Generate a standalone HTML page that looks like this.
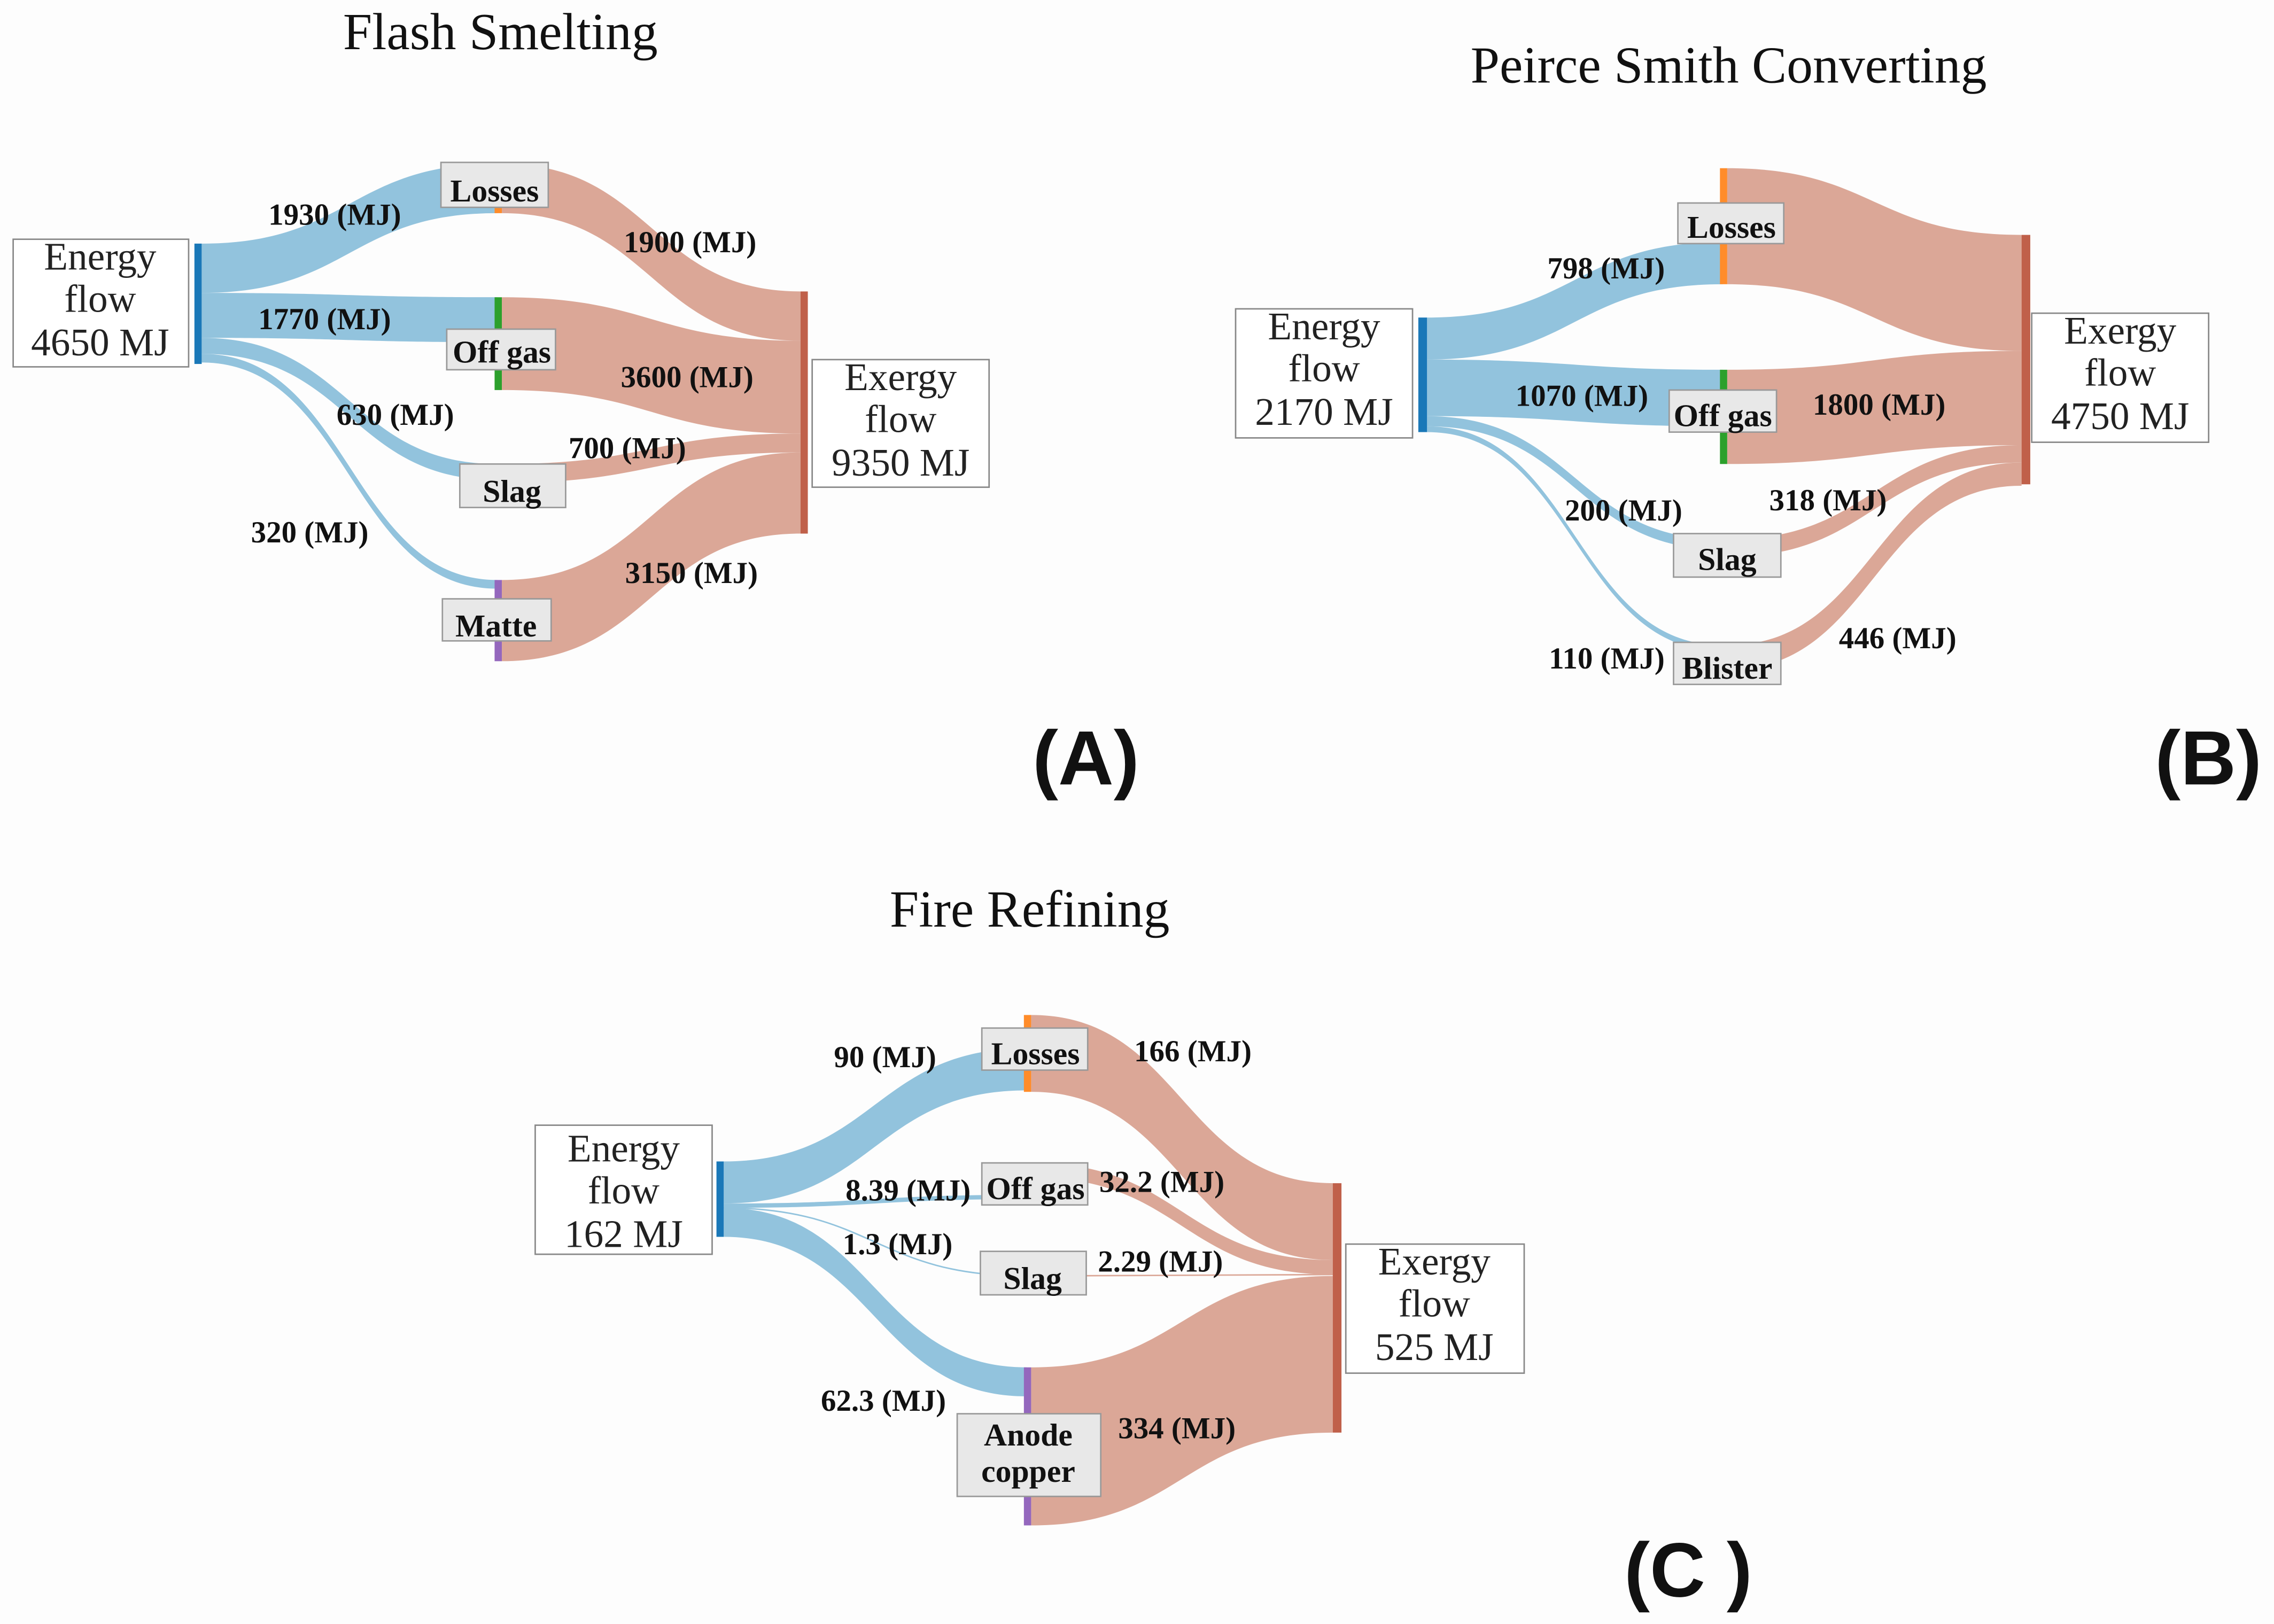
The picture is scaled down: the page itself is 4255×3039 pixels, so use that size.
<!DOCTYPE html>
<html><head><meta charset="utf-8"><style>
html,body{margin:0;padding:0;background:#fdfdfd}
svg{display:block}
.t{font-family:"Liberation Serif",serif;font-size:36px;fill:#111;text-anchor:middle}
.bx{font-family:"Liberation Serif",serif;font-size:27px;fill:#222;text-anchor:middle}
.fl{font-family:"Liberation Serif",serif;font-size:21px;font-weight:bold;fill:#111}
.nl{font-family:"Liberation Serif",serif;font-size:22px;font-weight:bold;fill:#111;text-anchor:middle}
.pl{font-family:"Liberation Sans",sans-serif;font-size:53px;font-weight:bold;fill:#111}
.b{fill:#92c3dd}.p{fill:#dba797}
.wb{fill:#fff;stroke:#888;stroke-width:1}
.gb{fill:#e8e8e8;stroke:#999;stroke-width:1}
</style></head><body>
<svg width="4255" height="3039" viewBox="0 0 1568 1120" xmlns="http://www.w3.org/2000/svg">
<rect width="1568" height="1120" fill="#fdfdfd"/>
<!-- Panel A -->
<text class="t" x="345" y="34">Flash Smelting</text>
<path class="b" d="M139 168 C241 168 241 113 343 113 L343 147 C241 147 241 202 139 202Z"/>
<path class="b" d="M139 202 C241 202 241 205 343 205 L343 236 C241 236 241 233 139 233Z"/>
<path class="b" d="M139 233 C241 233 241 320 343 320 L343 331 C241 331 241 244 139 244Z"/>
<path class="b" d="M139 244 C241 244 241 400 343 400 L343 406 C241 406 241 250 139 250Z"/>
<path class="p" d="M346 113 C449 113 449 201 552 201 L552 235 C449 235 449 147 346 147Z"/>
<path class="p" d="M346 205 C449 205 449 235 552 235 L552 299 C449 299 449 269 346 269Z"/>
<path class="p" d="M346 320 C449 320 449 299 552 299 L552 312 C449 312 449 333 346 333Z"/>
<path class="p" d="M346 400 C449 400 449 312 552 312 L552 368 C449 368 449 456 346 456Z"/>
<rect x="134" y="168" width="5" height="83" fill="#1a78b8"/>
<rect x="552" y="201" width="5" height="167" fill="#c0604a"/>
<rect x="341" y="113" width="5" height="34" fill="#ff8c2a"/>
<rect x="341" y="205" width="5" height="64" fill="#2ca02c"/>
<rect x="341" y="320" width="5" height="13" fill="#d62728"/>
<rect x="341" y="400" width="5" height="56" fill="#9467bd"/>
<rect class="wb" x="9" y="165" width="121" height="88"/>
<text class="bx" x="69" y="186">Energy</text><text class="bx" x="69" y="215">flow</text><text class="bx" x="69" y="245">4650 MJ</text>
<rect class="wb" x="560" y="248" width="122" height="88"/>
<text class="bx" x="621" y="269">Exergy</text><text class="bx" x="621" y="298">flow</text><text class="bx" x="621" y="328">9350 MJ</text>
<rect class="gb" x="304" y="112" width="74" height="31"/><text class="nl" x="341" y="139">Losses</text>
<rect class="gb" x="308" y="227" width="75" height="28"/><text class="nl" x="346" y="250">Off gas</text>
<rect class="gb" x="317" y="320" width="73" height="30"/><text class="nl" x="353" y="346">Slag</text>
<rect class="gb" x="305" y="413" width="75" height="29"/><text class="nl" x="342" y="439">Matte</text>
<text class="fl" x="185" y="155">1930 (MJ)</text>
<text class="fl" x="430" y="174">1900 (MJ)</text>
<text class="fl" x="178" y="227">1770 (MJ)</text>
<text class="fl" x="428" y="267">3600 (MJ)</text>
<text class="fl" x="232" y="293">630 (MJ)</text>
<text class="fl" x="392" y="316">700 (MJ)</text>
<text class="fl" x="173" y="374">320 (MJ)</text>
<text class="fl" x="431" y="402">3150 (MJ)</text>
<text class="pl" x="712" y="541">(A)</text>
<!-- Panel B -->
<text class="t" x="1192" y="57">Peirce Smith Converting</text>
<path class="b" d="M984 219 C1086 219 1086 167 1188 167 L1188 196 C1086 196 1086 248 984 248Z"/>
<path class="b" d="M984 248 C1086 248 1086 255 1188 255 L1188 294 C1086 294 1086 287 984 287Z"/>
<path class="b" d="M984 287 C1086 287 1086 372 1188 372 L1188 379 C1086 379 1086 294 984 294Z"/>
<path class="b" d="M984 294 C1086 294 1086 445 1188 445 L1188 449 C1086 449 1086 298 984 298Z"/>
<path class="p" d="M1191 116 C1292 116 1292 162 1394 162 L1394 242 C1292 242 1292 196 1191 196Z"/>
<path class="p" d="M1191 255 C1292 255 1292 242 1394 242 L1394 307 C1292 307 1292 320 1191 320Z"/>
<path class="p" d="M1191 372 C1292 372 1292 307 1394 307 L1394 319 C1292 319 1292 384 1191 384Z"/>
<path class="p" d="M1191 445 C1292 445 1292 319 1394 319 L1394 335 C1292 335 1292 462 1191 462Z"/>
<rect x="978" y="219" width="6" height="79" fill="#1a78b8"/>
<rect x="1394" y="162" width="6" height="172" fill="#c0604a"/>
<rect x="1186" y="116" width="5" height="80" fill="#ff8c2a"/>
<rect x="1186" y="255" width="5" height="65" fill="#2ca02c"/>
<rect x="1186" y="372" width="5" height="12" fill="#d62728"/>
<rect x="1186" y="445" width="5" height="17" fill="#9467bd"/>
<rect class="wb" x="852" y="213" width="122" height="89"/>
<text class="bx" x="913" y="234">Energy</text><text class="bx" x="913" y="263">flow</text><text class="bx" x="913" y="293">2170 MJ</text>
<rect class="wb" x="1401" y="216" width="122" height="89"/>
<text class="bx" x="1462" y="237">Exergy</text><text class="bx" x="1462" y="266">flow</text><text class="bx" x="1462" y="296">4750 MJ</text>
<rect class="gb" x="1157" y="140" width="73" height="28"/><text class="nl" x="1194" y="164">Losses</text>
<rect class="gb" x="1151" y="269" width="74" height="29"/><text class="nl" x="1188" y="294">Off gas</text>
<rect class="gb" x="1154" y="368" width="74" height="30"/><text class="nl" x="1191" y="393">Slag</text>
<rect class="gb" x="1154" y="443" width="74" height="29"/><text class="nl" x="1191" y="468">Blister</text>
<text class="fl" x="1067" y="192">798 (MJ)</text>
<text class="fl" x="1045" y="280">1070 (MJ)</text>
<text class="fl" x="1250" y="286">1800 (MJ)</text>
<text class="fl" x="1079" y="359">200 (MJ)</text>
<text class="fl" x="1220" y="352">318 (MJ)</text>
<text class="fl" x="1068" y="461">110 (MJ)</text>
<text class="fl" x="1268" y="447">446 (MJ)</text>
<text class="pl" x="1486" y="541">(B)</text>
<!-- Panel C -->
<text class="t" x="710" y="639">Fire Refining</text>
<path class="b" d="M499 801 C603 801 603 723 708 723 L708 752 C603 752 603 830 499 830Z"/>
<path class="b" d="M499 830 C603 830 603 824 708 824 L708 827 C603 827 603 833 499 833Z"/>
<path d="M499 833 C603 833 603 880 708 880" fill="none" stroke="#92c3dd" stroke-width="1"/>
<path class="b" d="M499 833 C603 833 603 943 708 943 L708 963 C603 963 603 853 499 853Z"/>
<path class="p" d="M711 700 C815 700 815 816 919 816 L919 869 C815 869 815 753 711 753Z"/>
<path class="p" d="M711 802 C815 802 815 869 919 869 L919 879 C815 879 815 812 711 812Z"/>
<path d="M711 880 C815 880 815 879 919 879" fill="none" stroke="#dba797" stroke-width="1"/>
<path class="p" d="M711 943 C815 943 815 880 919 880 L919 988 C815 988 815 1052 711 1052Z"/>
<rect x="494" y="801" width="5" height="52" fill="#1a78b8"/>
<rect x="919" y="816" width="6" height="172" fill="#c0604a"/>
<rect x="706" y="700" width="5" height="53" fill="#ff8c2a"/>
<rect x="706" y="802" width="5" height="10" fill="#2ca02c"/>
<rect x="706" y="943" width="5" height="109" fill="#9467bd"/>
<rect class="wb" x="369" y="776" width="122" height="89"/>
<text class="bx" x="430" y="801">Energy</text><text class="bx" x="430" y="830">flow</text><text class="bx" x="430" y="860">162 MJ</text>
<rect class="wb" x="928" y="858" width="123" height="89"/>
<text class="bx" x="989" y="879">Exergy</text><text class="bx" x="989" y="908">flow</text><text class="bx" x="989" y="938">525 MJ</text>
<rect class="gb" x="677" y="709" width="73" height="29"/><text class="nl" x="714" y="734">Losses</text>
<rect class="gb" x="677" y="802" width="73" height="29"/><text class="nl" x="714" y="827">Off gas</text>
<rect class="gb" x="676" y="863" width="73" height="30"/><text class="nl" x="712" y="889">Slag</text>
<rect class="gb" x="660" y="975" width="99" height="57"/><text class="nl" x="709" y="997">Anode</text><text class="nl" x="709" y="1022">copper</text>
<text class="fl" x="575" y="736">90 (MJ)</text>
<text class="fl" x="782" y="732">166 (MJ)</text>
<text class="fl" x="583" y="828">8.39 (MJ)</text>
<text class="fl" x="758" y="822">32.2 (MJ)</text>
<text class="fl" x="581" y="865">1.3 (MJ)</text>
<text class="fl" x="757" y="877">2.29 (MJ)</text>
<text class="fl" x="566" y="973">62.3 (MJ)</text>
<text class="fl" x="771" y="992">334 (MJ)</text>
<text class="pl" x="1120" y="1101">(C )</text>
</svg>
</body></html>
